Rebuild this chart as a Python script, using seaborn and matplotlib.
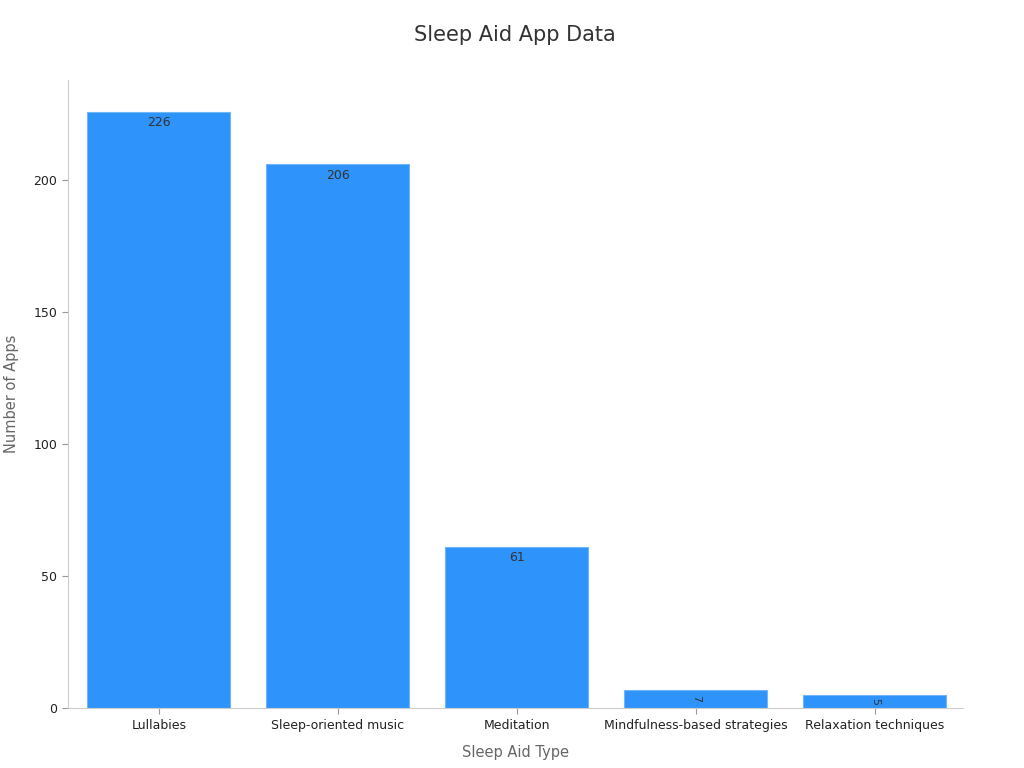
import matplotlib
matplotlib.use("Agg")
import matplotlib.pyplot as plt
import seaborn as sns
import pandas as pd

## Data
categories = ["Lullabies", "Sleep-oriented music", "Meditation",
              "Mindfulness-based strategies", "Relaxation techniques"]
num_apps = [226, 206, 61, 7, 5]

df = pd.DataFrame({"Sleep Aid Type": categories, "Number of Apps": num_apps})

sns.set_style("white")
plt.rcParams["font.family"] = ["DejaVu Sans"]

fig = plt.figure(figsize=(10.24, 7.68), dpi=100)
ax = fig.add_axes([0.066, 0.078, 0.874, 0.818])

sns.barplot(data=df, x="Sleep Aid Type", y="Number of Apps", color="#2E93FA",
            saturation=1, width=0.8, edgecolor="#6FB6FC", linewidth=0.8, ax=ax)

# value labels just inside the top of each bar
for i, v in enumerate(num_apps):
    if v >= 20:
        ax.annotate(str(v), (i, v), xytext=(0, -3), textcoords="offset points",
                    ha="center", va="top", fontsize=9, color="#333333")
    else:
        ax.annotate(str(v), (i, v / 2), ha="center", va="center",
                    fontsize=8, color="#333333", rotation=-90)

ax.set_xlim(-0.51, 4.49)
ax.set_ylim(0, 238)
ax.set_yticks([0, 50, 100, 150, 200])

ax.set_title("Sleep Aid App Data", fontsize=15, color="#333333", pad=28)
ax.set_xlabel("Sleep Aid Type", fontsize=10.5, color="#666666", labelpad=10)
ax.set_ylabel("Number of Apps", fontsize=10.5, color="#666666", labelpad=10)
ax.tick_params(axis="both", labelsize=9, colors="#222222", length=4,
               width=0.8, left=True, bottom=True)
ax.tick_params(axis="both", color="#999999")

sns.despine(ax=ax)
for s in ["left", "bottom"]:
    ax.spines[s].set_color("#CCCCCC")
    ax.spines[s].set_linewidth(0.8)
ax.grid(False)

fig.savefig("out.png", dpi=100)
